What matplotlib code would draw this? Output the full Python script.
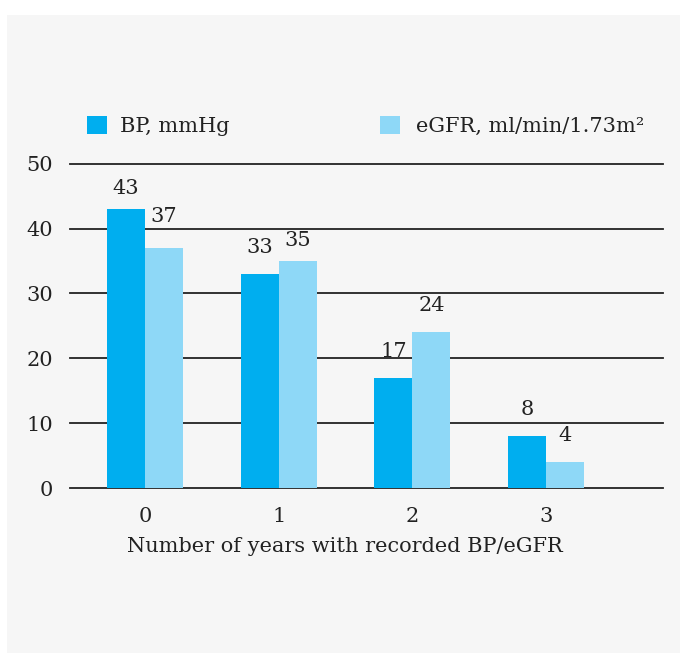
import matplotlib
matplotlib.use("Agg")
import matplotlib.pyplot as plt
from matplotlib.patches import Rectangle
import numpy as np

categories = ["0", "1", "2", "3"]
bp_values = [43, 33, 17, 8]
egfr_values = [37, 35, 24, 4]
series_names = ["BP, mmHg", "eGFR, ml/min/1.73m²"]
y_ticks = [0, 10, 20, 30, 40, 50]
x_label = "Number of years with recorded BP/eGFR"

plt.rcParams['font.family'] = ['DejaVu Serif']
FS = 15
C_BP = "#00AEEF"
C_EG = "#8ED8F7"
TXT = "#222222"

W, H, DPI = 680, 653, 100
fig = plt.figure(figsize=(W / DPI, H / DPI), dpi=DPI)
fig.patch.set_facecolor("white")
fig.patches.append(Rectangle((7 / W, 0), 1, 1 - 15 / H, transform=fig.transFigure,
                             facecolor="#F6F6F6", edgecolor="none", zorder=-10))

ax_top, ax_bot = 163.7, 488
ax = fig.add_axes([70 / W, 1 - ax_bot / H, (663 - 70) / W, (ax_bot - ax_top) / H])
ax.set_facecolor("none")

x = np.arange(len(categories))
bw = 0.285
b1 = ax.bar(x - bw / 2, bp_values, bw, color=C_BP, label=series_names[0], zorder=3)
b2 = ax.bar(x + bw / 2, egfr_values, bw, color=C_EG, label=series_names[1], zorder=3)

# label offsets (pixels above bar top)
off_bp = [11, 17, 17, 17]
off_eg = [22, 11, 17, 17]
for bars, offs in ((b1, off_bp), (b2, off_eg)):
    for rect, o in zip(bars, offs):
        ax.annotate(f"{int(rect.get_height())}",
                    (rect.get_x() + rect.get_width() / 2, rect.get_height()),
                    xytext=(0, o * 72 / DPI), textcoords="offset points",
                    ha="center", va="bottom", fontsize=FS, color=TXT, zorder=4)

ax.set_ylim(0, 50)
ax.set_xlim(-0.562, 3.876)
ax.set_yticks(y_ticks)
ax.set_xticks(x)
ax.set_xticklabels(categories)
ax.tick_params(axis="both", length=0, labelsize=FS, colors=TXT)
ax.tick_params(axis="y", pad=12)
ax.tick_params(axis="x", pad=14)
ax.yaxis.grid(True, color="#222222", linewidth=1.3, zorder=0)
for gl in ax.get_ygridlines():
    gl.set_clip_on(False)
ax.set_axisbelow(True)
for s in ax.spines.values():
    s.set_visible(False)
ax.set_xlabel(x_label, fontsize=FS, color=TXT)
ax.xaxis.set_label_coords((345 - 70) / (663 - 70), (ax_bot - 537) / (ax_bot - ax_top))

fs_px = FS * DPI / 72
common = dict(loc="lower left", bbox_transform=fig.transFigure, frameon=False,
              fontsize=FS, handlelength=20 / fs_px, handleheight=20 / fs_px,
              borderpad=0, borderaxespad=0, labelcolor=TXT)
leg1 = ax.legend(handles=[b1], bbox_to_anchor=(87 / W, 1 - 136 / H),
                 handletextpad=13 / fs_px, **common)
ax.add_artist(leg1)
leg2 = ax.legend(handles=[b2], bbox_to_anchor=(380 / W, 1 - 136 / H),
                 handletextpad=16 / fs_px, **common)

fig.savefig("out.png", dpi=DPI)
